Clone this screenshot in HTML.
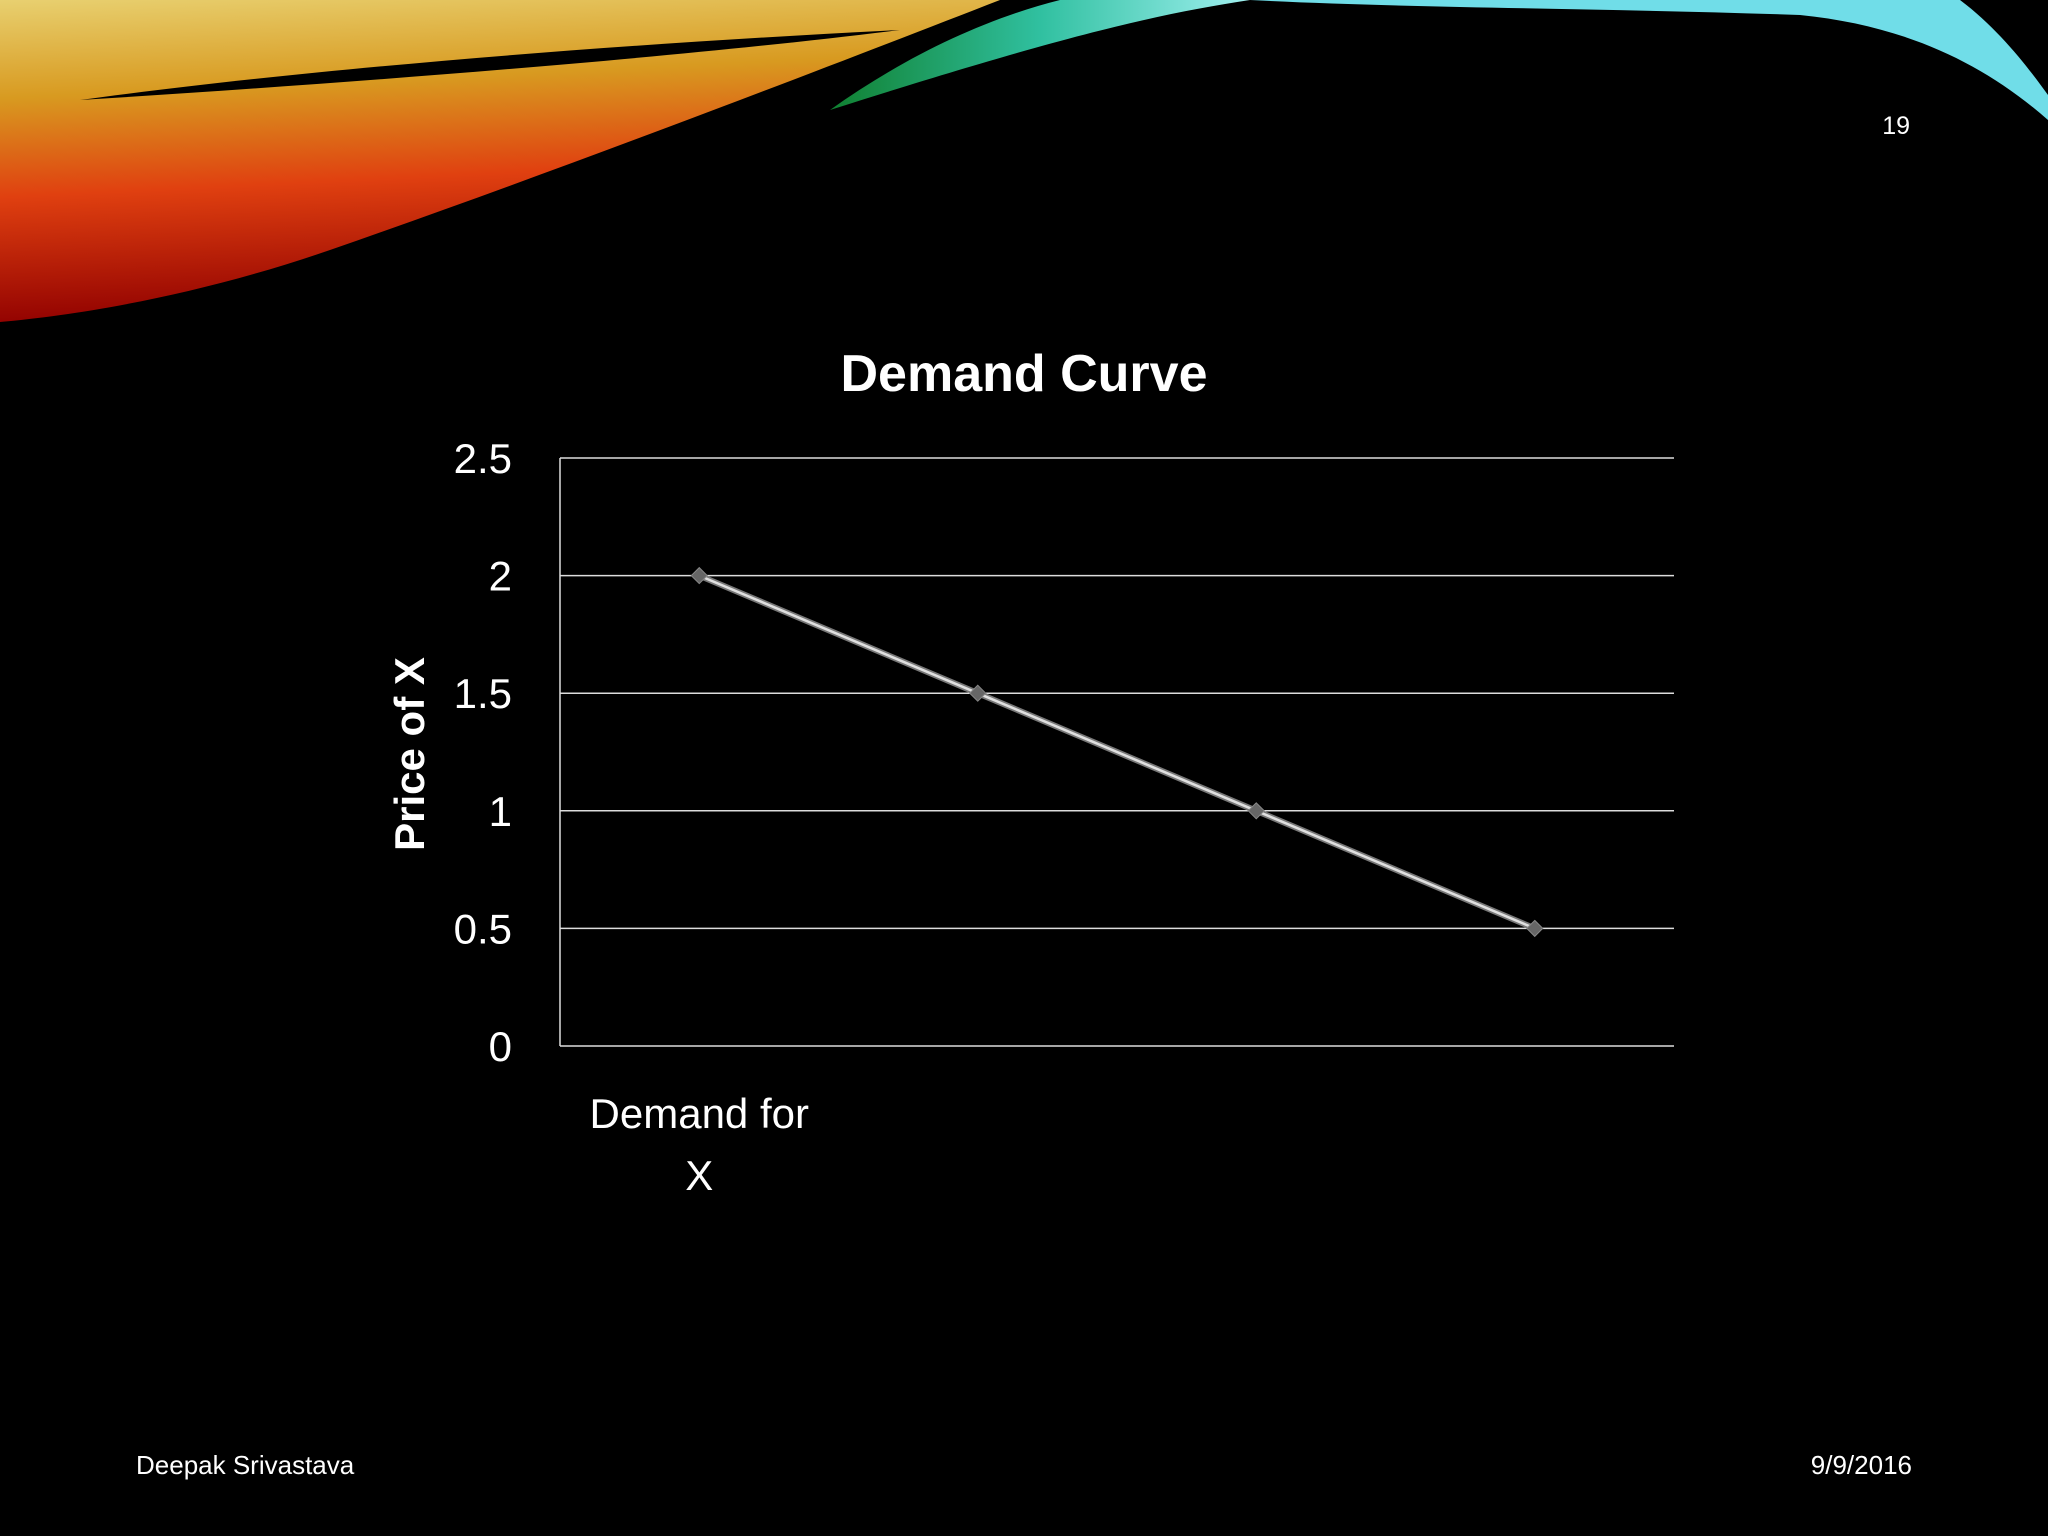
<!DOCTYPE html>
<html><head><meta charset="utf-8"><style>
html,body{margin:0;padding:0;background:#000;}
#slide{position:relative;width:2048px;height:1536px;background:#000;overflow:hidden;font-family:"Liberation Sans",sans-serif;color:#fff;}
</style></head><body>
<div id="slide">
<svg width="2048" height="1536" style="position:absolute;left:0;top:0">
<defs>
<linearGradient id="warm" x1="0" y1="0" x2="0.15" y2="1">
<stop offset="0" stop-color="#e8d070"/>
<stop offset="0.3" stop-color="#d89a20"/>
<stop offset="0.6" stop-color="#e04010"/>
<stop offset="1" stop-color="#900000"/>
</linearGradient>
<linearGradient id="cool" x1="0" y1="0" x2="1" y2="0">
<stop offset="0" stop-color="#108030"/>
<stop offset="0.5" stop-color="#30c0a0"/>
<stop offset="1" stop-color="#a0f0f0"/>
</linearGradient>
</defs>
<g>
<path d="M0,0 L1000,0 C820,70 560,170 330,250 C200,295 80,315 0,322 Z" fill="url(#warm)"/>
<path d="M80,100 C300,70 600,45 900,30 C700,55 400,80 80,100Z" fill="#000"/>
<path d="M830,110 C900,60 980,20 1060,0 L1250,0 C1150,15 1050,40 830,110Z" fill="url(#cool)"/>
<path d="M1250,0 L1960,0 C2000,30 2030,70 2048,95 L2048,120 C1980,60 1900,25 1800,15 C1600,8 1400,8 1250,0Z" fill="#70dde8"/>
</g>
<g id="plot"></g>
</svg>
<div style="position:absolute;left:1860px;top:112px;width:50px;text-align:right;font-size:25px;">19</div>
<div style="position:absolute;left:0;width:2048px;top:344px;text-align:center;font-size:52px;font-weight:bold;">Demand Curve</div>
<div style="position:absolute;left:410px;top:754px;transform:translate(-50%,-50%) rotate(-90deg);font-size:42px;font-weight:bold;white-space:nowrap;">Price of X</div>
<div style="position:absolute;left:136px;top:1450px;font-size:26px;">Deepak Srivastava</div>
<div style="position:absolute;right:136px;top:1450px;font-size:26px;">9/9/2016</div>
</div>
<script>
const categories = ["Demand for X", "", "", ""];
const values = [2, 1.5, 1, 0.5];
const yTicks = [0, 0.5, 1, 1.5, 2, 2.5];
const yTickLabels = ["0", "0.5", "1", "1.5", "2", "2.5"];
const NS = "http://www.w3.org/2000/svg";
const L = 560, R = 1674, T = 458, B = 1046, yMax = 2.5;
const y = v => B - (v / yMax) * (B - T);
const band = (R - L) / categories.length;
const x = i => L + band * (i + 0.5);
const g = document.getElementById('plot');
function mk(tag, attrs) { const e = document.createElementNS(NS, tag); for (const k in attrs) e.setAttribute(k, attrs[k]); g.appendChild(e); return e; }
yTicks.forEach((t, i) => {
  const ln = mk('line', {x1: L, x2: R, y1: y(t), y2: y(t), stroke: '#ddd', 'stroke-width': 1.5});
  
  
  const tx = mk('text', {x: 512, y: y(t) + 15, 'text-anchor': 'end', 'font-size': 42, fill: '#fff', 'font-family': 'Liberation Sans, sans-serif'});
  tx.textContent = yTickLabels[i];
  
  
});
const ax = mk('line', {x1: L, x2: L, y1: T, y2: B, stroke: '#ddd', 'stroke-width': 1.5});


categories.forEach((c, i) => {
  if (!c) return;
  const words = c.split(' ');
  const lines = [words.slice(0, 2).join(' '), words.slice(2).join(' ')];
  lines.forEach((s, j) => {
    const tx = mk('text', {x: x(i), y: 1128 + j * 62, 'text-anchor': 'middle', 'font-size': 42, fill: '#fff', 'font-family': 'Liberation Sans, sans-serif'});
    tx.textContent = s;
    
    
  });
});
const pts = values.map((v, i) => x(i) + ',' + y(v)).join(' ');
const sh = mk('polyline', {points: pts, fill: 'none', stroke: '#777', 'stroke-width': 6});


const pl = mk('polyline', {points: pts, fill: 'none', stroke: '#e0e0e0', 'stroke-width': 2.5});


values.forEach((v, i) => {
  const cx = x(i), cy = y(v), s = 8;
  const m = mk('polygon', {points: `${cx},${cy - s} ${cx + s},${cy} ${cx},${cy + s} ${cx - s},${cy}`, fill: '#666', stroke: '#888', 'stroke-width': 1});
  
  
});
</script>
</body></html>
